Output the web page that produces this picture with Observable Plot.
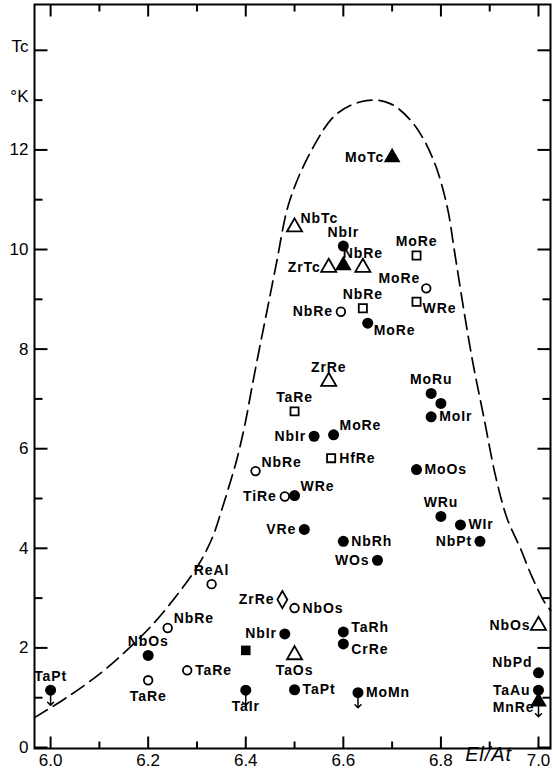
<!DOCTYPE html>
<html><head><meta charset="utf-8">
<script src="https://cdn.jsdelivr.net/npm/d3@7"></script>
<script src="https://cdn.jsdelivr.net/npm/@observablehq/plot@0.6"></script>
<style>
body{margin:0;background:#fff}
svg{display:block}
g[aria-label="text"] text{letter-spacing:0.9px}
</style>
</head><body><div id="chart"></div>
<script>
// ---- data ----
const compounds = ["TaPt","NbOs","TaRe","NbRe","TaRe","ReAl","","TaIr","ZrRe","NbOs","NbIr","TaOs","TaPt","TaRh","CrRe","MoMn","VRe","NbRh","WOs","WRu","WIr","NbPt","TiRe","WRe","NbRe","HfRe","NbIr","MoRe","TaRe","ZrRe","MoRu","","MoIr","MoOs","NbRe","NbRe","MoRe","WRe","MoRe","ZrTc","","NbRe","NbIr","MoRe","NbTc","MoTc","NbOs","NbPd","TaAu","MnRe"];
const elAt = [6.00,6.20,6.20,6.24,6.28,6.33,6.40,6.40,6.475,6.50,6.48,6.50,6.50,6.60,6.60,6.63,6.52,6.60,6.67,6.80,6.84,6.88,6.48,6.50,6.42,6.575,6.54,6.58,6.50,6.57,6.78,6.80,6.78,6.75,6.595,6.64,6.65,6.75,6.77,6.57,6.60,6.64,6.60,6.75,6.50,6.70,7.00,7.00,7.00,7.00];
const tc = [1.15,1.85,1.35,2.40,1.55,3.28,1.95,1.15,2.97,2.80,2.28,1.86,1.16,2.32,2.08,1.10,4.38,4.14,3.76,4.64,4.47,4.14,5.04,5.06,5.55,5.81,6.25,6.28,6.75,7.35,7.11,6.91,6.64,5.58,8.75,8.82,8.52,8.95,9.22,9.64,9.68,9.64,10.07,9.88,10.45,11.85,2.45,1.50,1.15,0.92];
const markerType = ["fc","fc","oc","oc","oc","oc","fs","fc","od","oc","fc","ot","fc","fc","fc","fc","fc","fc","fc","fc","fc","fc","oc","fc","oc","os","fc","fc","os","ot","fc","fc","fc","fc","oc","os","fc","os","oc","ot","ft","ot","fc","os","ot","ft","ot","fc","fc","ft"];
const upperLimit = [true,false,false,false,false,false,false,true,false,false,false,false,false,false,false,true,false,false,false,false,false,false,false,false,false,false,false,false,false,false,false,false,false,false,false,false,false,false,false,false,false,false,false,false,false,false,false,false,false,true];
const labelSide = ["t","t","b","tr","r","t","","b","l","r","l","b","r","rt","rb","r","l","r","l","t","r","l","l","tr","tr","r","l","tr","t","t","t","","r","r","l","t","br","br","tl","l","","t","t","t","tr","l","l","tl","l","bl"];

const curveElAt = [5.967,6.034,6.102,6.156,6.211,6.266,6.305,6.333,6.350,6.364,6.381,6.398,6.412,6.428,6.445,6.462,6.490,6.538,6.586,6.647,6.696,6.744,6.785,6.813,6.828,6.847,6.866,6.888,6.912,6.936,6.962,6.987,7.014,7.025];
const curveTc = [0.60,1.01,1.49,1.95,2.49,3.15,3.70,4.25,4.75,5.19,5.76,6.47,7.20,8.01,8.84,9.68,10.98,12.05,12.72,12.99,12.93,12.52,11.79,10.85,9.95,8.78,7.70,6.63,5.45,4.59,4.02,3.42,2.89,2.75];

const xMajorTicks = [6.0,6.2,6.4,6.6,6.8,7.0];
const xMinorTicks = [6.1,6.3,6.5,6.7,6.9];
const yMajorTicks = [0,2,4,6,8,10,12,14];
const yMinorTicks = [1,3,5,7,9,11,13];
const yTickLabels = [0,2,4,6,8,10,12];
const unitTicks = [14,13];
const unitLabels = ["Tc","°K"];
const xAxisTitle = "El/At";

// ---- layout ----
const W = 553, H = 772, mL = 34, mR = 3, mT = 4, mB = 24;
const FW = W - mL - mR, FH = H - mT - mB;
const xDomain = [5.967, 7.0246], yDomain = [-0.02, 14.92];
const xPerPx = (xDomain[1] - xDomain[0]) / FW;
const yPerPx = (yDomain[1] - yDomain[0]) / FH;

const points = compounds.map((name, i) => ({
  name, x: elAt[i], y: tc[i], type: markerType[i], limit: upperLimit[i], side: labelSide[i]
}));
const curve = curveElAt.map((x, i) => ({x, y: curveTc[i]}));

// inward tick segments on the four sides of the frame (length in pixels)
const tickSegs = [];
for (const [list, len] of [[xMajorTicks, 12], [xMinorTicks, 7]]) {
  for (const v of list) {
    tickSegs.push({x1: v, x2: v, y1: yDomain[0], y2: yDomain[0] + len * yPerPx});
    tickSegs.push({x1: v, x2: v, y1: yDomain[1], y2: yDomain[1] - len * yPerPx});
  }
}
for (const [list, len] of [[yMajorTicks, 13], [yMinorTicks, 8]]) {
  for (const v of list) {
    tickSegs.push({y1: v, y2: v, x1: xDomain[0], x2: xDomain[0] + len * xPerPx});
    tickSegs.push({y1: v, y2: v, x1: xDomain[1], x2: xDomain[1] - len * xPerPx});
  }
}

const markerStyle = {
  fc: {symbol: "circle", r: 5.5, fill: "black", stroke: "none"},
  oc: {symbol: "circle", r: 4.3, fill: "white", stroke: "black", strokeWidth: 1.8},
  ot: {symbol: "triangle", r: 5.6, fill: "white", stroke: "black", strokeWidth: 1.8},
  ft: {symbol: "triangle", r: 6.2, fill: "black", stroke: "none"},
  os: {symbol: "square", r: 4.6, fill: "white", stroke: "black", strokeWidth: 1.8},
  fs: {symbol: "square", r: 5.4, fill: "black", stroke: "none"},
  od: {symbol: "diamond", r: 5.2, fill: "white", stroke: "black", strokeWidth: 1.8}
};
const sideStyle = {
  t:  {dx: 0,  dy: -14, textAnchor: "middle"},
  b:  {dx: 0,  dy: 16,  textAnchor: "middle"},
  l:  {dx: -8, dy: 0,   textAnchor: "end"},
  r:  {dx: 8,  dy: 0,   textAnchor: "start"},
  rt: {dx: 8,  dy: -4,  textAnchor: "start"},
  rb: {dx: 8,  dy: 6,   textAnchor: "start"},
  tr: {dx: 6,  dy: -9,  textAnchor: "start"},
  tl: {dx: -6, dy: -10, textAnchor: "end"},
  br: {dx: 6,  dy: 7,   textAnchor: "start"},
  bl: {dx: -4, dy: 6,   textAnchor: "end"}
};

const marks = [
  Plot.frame({stroke: "black", strokeWidth: 2}),
  Plot.line(curve, {x: "x", y: "y", curve: "catmull-rom", stroke: "black", strokeWidth: 1.7, strokeDasharray: "15,7"}),
  Plot.axisX(xMajorTicks, {anchor: "bottom", tickSize: 0, tickPadding: 5, tickFormat: d3.format(".1f"), fontSize: 17, label: null}),
  Plot.axisY(yTickLabels, {anchor: "left", tickSize: 0, tickPadding: 6, fontSize: 17, label: null, tickFormat: d3.format("d")}),
  Plot.axisY(unitTicks, {anchor: "left", tickSize: 0, tickPadding: 6, fontSize: 17, label: null, dy: -4,
    tickFormat: d => unitLabels[unitTicks.indexOf(d)]}),
  Plot.text([xAxisTitle], {frameAnchor: "bottom-right", text: d => d, dx: -62, dy: 12, fontSize: 20, fontStyle: "italic", textAnchor: "middle"}),
  Plot.vector(points.filter(p => p.limit), {x: "x", y: "y", rotate: 180, length: 15, anchor: "start", stroke: "black", strokeWidth: 1.5})
];
for (const [type, st] of Object.entries(markerStyle)) {
  marks.push(Plot.dot(points.filter(p => p.type === type), {x: "x", y: "y", ...st}));
}
for (const [side, st] of Object.entries(sideStyle)) {
  marks.push(Plot.text(points.filter(p => p.side === side && p.name), {
    x: "x", y: "y", text: "name", fontSize: 14, fontWeight: "bold", fill: "black", ...st
  }));
}
marks.push(Plot.link(tickSegs, {x1: "x1", y1: "y1", x2: "x2", y2: "y2", stroke: "black", strokeWidth: 2}));

const chart = Plot.plot({
  width: W, height: H,
  marginLeft: mL, marginRight: mR, marginTop: mT, marginBottom: mB,
  x: {domain: xDomain},
  y: {domain: yDomain},
  style: {fontFamily: "'Liberation Sans', Arial, sans-serif", background: "white", color: "black"},
  marks
});
document.getElementById("chart").append(chart);
</script>
</body></html>
